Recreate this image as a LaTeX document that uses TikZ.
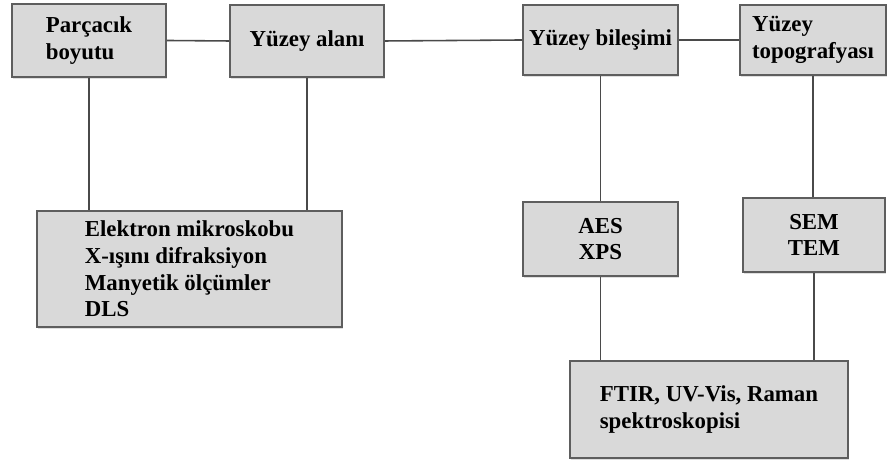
\documentclass[tikz,border=0pt]{standalone}
\usepackage{fontspec}
\setmainfont{Liberation Serif}
\usepackage{xcolor}
\usepackage{tikz}
\usetikzlibrary{shadows}

\definecolor{boxfill}{HTML}{D9D9D9}
\definecolor{boxedge}{HTML}{5E5E5E}
\definecolor{linkgray}{HTML}{4A4A4A}

\begin{document}
\begin{tikzpicture}[
    techbox/.style={draw=boxedge,fill=boxfill,line width=1pt,inner sep=2pt,
      font=\fontsize{13}{15.2}\selectfont\bfseries,
      drop shadow={opacity=0.25,shadow xshift=0.4pt,shadow yshift=-1.2pt}},
    link/.style={draw=linkgray,line width=0.9pt}]
  \useasboundingbox (0,0) rectangle (17.74,9.28);

  % top row
  \node[techbox,minimum width=3.08cm,minimum height=1.46cm,align=left] (size) at (1.78,8.47) {Parçacık\\boyutu};
  \node[techbox,minimum width=3.08cm,minimum height=1.44cm] (area) at (6.14,8.46) {Yüzey alanı};
  \node[techbox,minimum width=3.10cm,minimum height=1.40cm] (comp) at (12.01,8.48) {Yüzey bileşimi};
  \node[techbox,minimum width=2.92cm,minimum height=1.40cm,align=left] (topo) at (16.26,8.48) {Yüzey\\topografyası};

  % methods
  \node[techbox,minimum width=6.10cm,minimum height=2.32cm,align=left] (props) at (3.79,3.90)
    {Elektron mikroskobu\\X-ışını difraksiyon\\Manyetik ölçümler\\DLS};
  \node[techbox,minimum width=3.10cm,minimum height=1.48cm,align=center] (aes) at (12.01,4.50) {AES\\XPS};
  \node[techbox,minimum width=2.84cm,minimum height=1.48cm,align=center] (sem) at (16.28,4.58) {SEM\\TEM};
  \node[techbox,minimum width=5.56cm,minimum height=1.94cm,align=left] (spec) at (14.18,1.09)
    {FTIR, UV-Vis, Raman\\spektroskopisi};

  % connections
  \draw[link] (size.east) -- (area.west);
  \draw[link] (area.east) -- (comp.west);
  \draw[link] (comp.east) -- (topo.west);
  \draw[link] (size.south) -- (size.south |- props.north);
  \draw[link] (area.south) -- (area.south |- props.north);
  \draw[link] (comp.south) -- (aes.north);
  \draw[link] (topo.south) -- (topo.south |- sem.north);
  \draw[link] (aes.south) -- (aes.south |- spec.north);
  \draw[link] (sem.south) -- (sem.south |- spec.north);
\end{tikzpicture}
\end{document}
